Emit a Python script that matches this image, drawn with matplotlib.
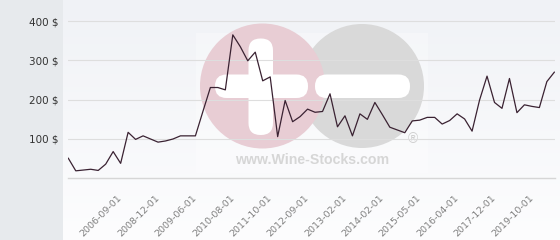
#!/usr/bin/env python3

import numpy as np
import matplotlib
matplotlib.use('Agg')
import matplotlib.pyplot as plt
from matplotlib.patches import Circle, FancyBboxPatch, Rectangle

# price history, one value per observation
prices = [51, 19, 21, 23, 20, 36, 68, 38, 117, 99,
          108, 100, 92, 95, 100, 108, 108, 108, 170, 231,
          231, 225, 365, 335, 299, 321, 248, 258, 106, 198,
          144, 157, 176, 168, 170, 215, 131, 159, 108, 164,
          150, 193, 162, 130, 123, 116, 146, 148, 155, 155,
          138, 147, 164, 151, 120, 199, 260, 193, 178, 254,
          167, 187, 183, 180, 246, 270]

label_idx = list(range(7, len(prices), 5))
label_txt = ['2006-09-01', '2008-12-01', '2009-06-01', '2010-08-01',
             '2011-10-01', '2012-09-01', '2013-02-01', '2014-02-01',
             '2015-05-01', '2016-04-01', '2017-12-01', '2019-10-01']
y_ticks = [100, 200, 300, 400]

W, H = 560, 240
fig = plt.figure(figsize=(W / 100, H / 100), dpi=100)
fig.patch.set_facecolor('#e7eaed')

# background panel with gradient and watermark (pixel coords)
bg = fig.add_axes([63 / W, 0, (W - 63) / W, 1])
bg.set_xlim(63, W)
bg.set_ylim(H, 0)
bg.axis('off')
grad = np.linspace(0, 1, 256).reshape(-1, 1)
top = np.array([240, 242, 246]) / 255
bot = np.array([253, 253, 254]) / 255
img = top + (bot - top) * grad[:, :, None]
bg.imshow(img, extent=(63, W, H, 0), aspect='auto', zorder=0)

bg.add_patch(Rectangle((196, 33), 232, 140, color='white', alpha=0.3, lw=0, zorder=1))
bg.add_patch(Circle((362, 86), 62, color='#d9d9d9', lw=0, zorder=2))
bg.add_patch(Circle((262.5, 86), 62.5, color='#e8cdd4', lw=0, zorder=3))
# plus and minus bars
bg.add_patch(FancyBboxPatch((215, 74.5), 93, 23.5, boxstyle='round,pad=0,rounding_size=11.5',
                            color='white', lw=0, zorder=4))
bg.add_patch(FancyBboxPatch((248.5, 38.5), 24.5, 96.5, boxstyle='round,pad=0,rounding_size=12',
                            color='white', lw=0, zorder=4))
bg.add_patch(FancyBboxPatch((315, 74.5), 95, 23.5, boxstyle='round,pad=0,rounding_size=11.5',
                            color='white', lw=0, zorder=4))
bg.text(312, 160, 'www.Wine-Stocks.com', family='Liberation Sans', weight='bold',
        fontsize=10.2, color='#d6d6d6', ha='center', va='center', zorder=5)
bg.text(413, 139, '®', family='Liberation Sans', fontsize=10, color='#cfcfcf',
        ha='center', va='center', zorder=5)

# main chart
ax = fig.add_axes([68.3 / W, (H - 178.3) / H, (555 - 68.3) / W, 178.3 / H])
ax.patch.set_alpha(0)
ax.plot(range(len(prices)), prices, color='#3a2232', lw=0.9, zorder=5)
ax.set_xlim(0, 65.09)
ax.set_ylim(0, 178.3 / 0.393)

for s in ['top', 'right', 'left']:
    ax.spines[s].set_visible(False)
ax.spines['bottom'].set_color('#d6d6d6')
ax.spines['bottom'].set_linewidth(1.0)

ax.set_yticks(y_ticks)
ax.set_yticklabels([f'{v} $' for v in y_ticks], fontsize=7.5, color='#333333')
ax.grid(axis='y', color='#dedede', lw=0.8)
ax.set_axisbelow(True)
ax.tick_params(axis='y', length=0, pad=7)

ax.set_xticks(label_idx)
ax.set_xticklabels(label_txt, fontsize=6.8, color='#808080', rotation=45,
                   ha='right', va='center', rotation_mode='anchor')
ax.tick_params(axis='x', length=0, pad=13)

fig.savefig('out.png', dpi=100, facecolor=fig.get_facecolor())
